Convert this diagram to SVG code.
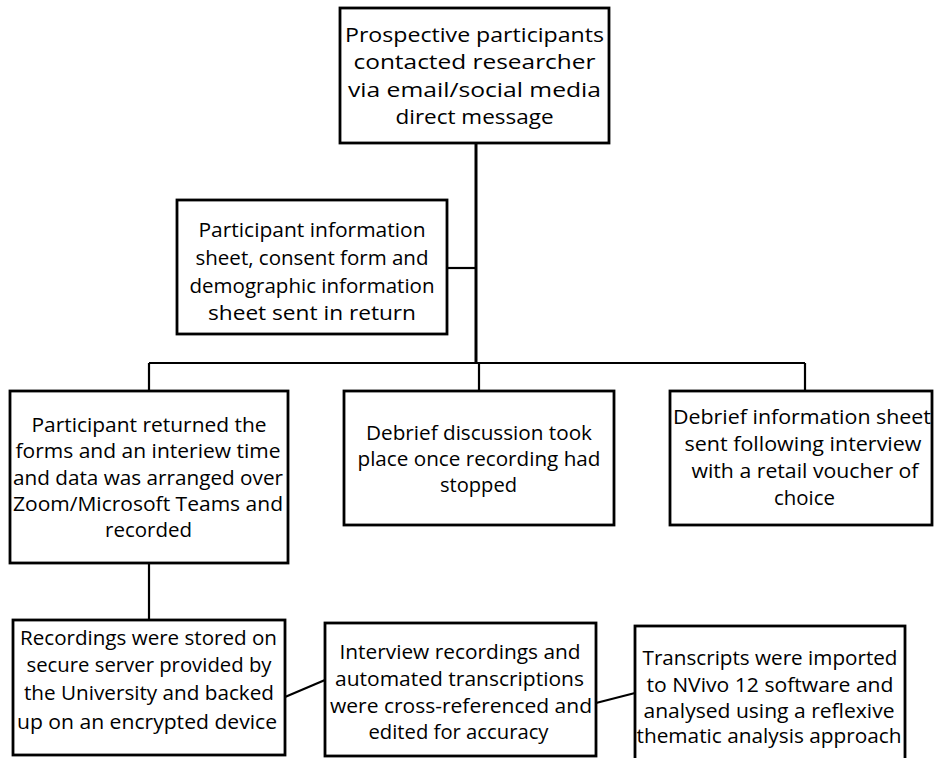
<svg xmlns="http://www.w3.org/2000/svg" width="934" height="758" viewBox="0 0 934 758">
  <style>
    .box { fill: #ffffff; stroke: #000000; stroke-width: 2.8; }
    .wire { fill: none; stroke: #000000; stroke-width: 2.2; }
    .trunk { fill: none; stroke: #000000; stroke-width: 3; }
    text { font-family: "Open Sans", "Noto Sans", "Liberation Sans", sans-serif; font-size: 20px; fill: #000000; text-anchor: middle; }
  </style>
  <rect width="934" height="758" fill="#ffffff"/>

  <!-- connectors -->
  <g id="connectors">
    <line class="trunk" x1="476" y1="143" x2="476" y2="363"/>
    <line class="wire" x1="447" y1="268" x2="476" y2="268"/>
    <line class="wire" x1="149" y1="363" x2="805" y2="363"/>
    <line class="wire" x1="149" y1="363" x2="149" y2="391"/>
    <line class="wire" x1="479" y1="363" x2="479" y2="391"/>
    <line class="wire" x1="805" y1="363" x2="805" y2="391"/>
    <line class="wire" x1="149" y1="563" x2="149" y2="620"/>
    <line class="wire" x1="285" y1="697" x2="325" y2="680"/>
    <line class="wire" x1="596" y1="703" x2="635" y2="693"/>
  </g>

  <!-- contact -->
  <g id="contact">
    <rect class="box" x="340" y="8" width="269" height="135"/>
    <text x="474.5" y="41.5" textLength="259" lengthAdjust="spacingAndGlyphs">Prospective participants</text>
    <text x="474.5" y="69" textLength="242" lengthAdjust="spacingAndGlyphs">contacted researcher</text>
    <text x="474.5" y="96.5" textLength="253" lengthAdjust="spacingAndGlyphs">via email/social media</text>
    <text x="474.5" y="124" textLength="158" lengthAdjust="spacingAndGlyphs">direct message</text>
  </g>

  <!-- information sheets -->
  <g id="info-sheets">
    <rect class="box" x="177" y="200" width="270" height="134"/>
    <text x="312" y="237" textLength="227" lengthAdjust="spacingAndGlyphs">Participant information</text>
    <text x="312" y="265" textLength="233" lengthAdjust="spacingAndGlyphs">sheet, consent form and</text>
    <text x="312" y="293" textLength="245" lengthAdjust="spacingAndGlyphs">demographic information</text>
    <text x="312" y="320" textLength="208" lengthAdjust="spacingAndGlyphs">sheet sent in return</text>
  </g>

  <!-- interview -->
  <g id="interview">
    <rect class="box" x="10" y="391" width="278" height="172"/>
    <text x="149" y="432" textLength="235" lengthAdjust="spacingAndGlyphs">Participant returned the</text>
    <text x="148" y="458" textLength="265" lengthAdjust="spacingAndGlyphs">forms and an interiew time</text>
    <text x="148" y="484.5" textLength="270" lengthAdjust="spacingAndGlyphs">and data was arranged over</text>
    <text x="148" y="511" textLength="270" lengthAdjust="spacingAndGlyphs">Zoom/Microsoft Teams and</text>
    <text x="148.5" y="537" textLength="87" lengthAdjust="spacingAndGlyphs">recorded</text>
  </g>

  <!-- debrief discussion -->
  <g id="debrief-discussion">
    <rect class="box" x="344" y="391" width="270" height="134"/>
    <text x="479" y="439.5" textLength="226" lengthAdjust="spacingAndGlyphs">Debrief discussion took</text>
    <text x="479" y="466" textLength="243" lengthAdjust="spacingAndGlyphs">place once recording had</text>
    <text x="478.5" y="492" textLength="77" lengthAdjust="spacingAndGlyphs">stopped</text>
  </g>

  <!-- debrief sheet -->
  <g id="debrief-sheet">
    <rect class="box" x="670" y="391" width="262" height="134"/>
    <text x="802" y="424" textLength="258" lengthAdjust="spacingAndGlyphs">Debrief information sheet</text>
    <text x="803" y="451" textLength="237" lengthAdjust="spacingAndGlyphs">sent following interview</text>
    <text x="805" y="478" textLength="227" lengthAdjust="spacingAndGlyphs">with a retail voucher of</text>
    <text x="804.5" y="505" textLength="61" lengthAdjust="spacingAndGlyphs">choice</text>
  </g>

  <!-- storage -->
  <g id="storage">
    <rect class="box" x="13" y="620" width="272" height="135"/>
    <text x="148.5" y="645" textLength="257" lengthAdjust="spacingAndGlyphs">Recordings were stored on</text>
    <text x="149" y="672" textLength="245" lengthAdjust="spacingAndGlyphs">secure server provided by</text>
    <text x="149" y="700" textLength="250" lengthAdjust="spacingAndGlyphs">the University and backed</text>
    <text x="147" y="728.5" textLength="260" lengthAdjust="spacingAndGlyphs">up on an encrypted device</text>
  </g>

  <!-- transcription check -->
  <g id="transcription">
    <rect class="box" x="325" y="623" width="271" height="133"/>
    <text x="460" y="659" textLength="241" lengthAdjust="spacingAndGlyphs">Interview recordings and</text>
    <text x="459.5" y="685.5" textLength="249" lengthAdjust="spacingAndGlyphs">automated transcriptions</text>
    <text x="461" y="712.5" textLength="262" lengthAdjust="spacingAndGlyphs">were cross-referenced and</text>
    <text x="458.5" y="739" textLength="180" lengthAdjust="spacingAndGlyphs">edited for accuracy</text>
  </g>

  <!-- analysis -->
  <g id="analysis">
    <rect class="box" x="635" y="626" width="270" height="140"/>
    <text x="770" y="665" textLength="255" lengthAdjust="spacingAndGlyphs">Transcripts were imported</text>
    <text x="770" y="691.5" textLength="247" lengthAdjust="spacingAndGlyphs">to NVivo 12 software and</text>
    <text x="769" y="718" textLength="251" lengthAdjust="spacingAndGlyphs">analysed using a reflexive</text>
    <text x="769" y="743" textLength="265" lengthAdjust="spacingAndGlyphs">thematic analysis approach</text>
  </g>
</svg>
